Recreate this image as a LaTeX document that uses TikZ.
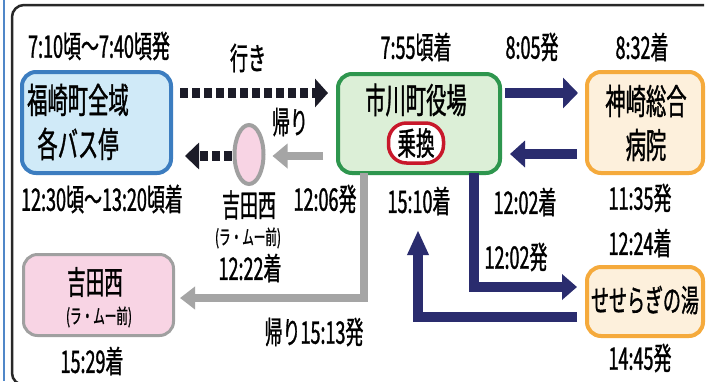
\documentclass[tikz,border=0pt]{standalone}
\usepackage{fontspec}
\newfontfamily\jp[FakeStretch=0.58, FakeBold=1]{Noto Sans CJK JP}
\usetikzlibrary{arrows.meta,shapes.geometric,calc}
\definecolor{navy}{RGB}{42,44,110}
\definecolor{dotc}{RGB}{28,28,40}
\definecolor{arrgray}{RGB}{165,165,165}
\definecolor{bluebd}{RGB}{60,125,192}
\definecolor{bluefill}{RGB}{208,234,248}
\definecolor{greenbd}{RGB}{46,150,78}
\definecolor{greenfill}{RGB}{220,239,215}
\definecolor{orangebd}{RGB}{245,170,60}
\definecolor{orangefill}{RGB}{253,240,220}
\definecolor{pinkfill}{RGB}{248,212,228}
\definecolor{pinkbd}{RGB}{160,160,160}
\definecolor{pillred}{RGB}{200,24,43}
\definecolor{framec}{RGB}{40,40,40}
\definecolor{sideblue}{RGB}{80,135,200}
\begin{document}
\begin{tikzpicture}[x=1pt,y=-1pt,
  box/.style={draw, rounded corners=14pt, line width=4pt, inner sep=0pt, outer sep=0pt},
  lbl/.style={inner sep=0pt, text=black, font=\jp\fontsize{31}{32}\selectfont},
  big/.style={inner sep=0pt, text=black, align=center, font=\jp\fontsize{35}{44}\selectfont},
  small/.style={inner sep=0pt, text=black, font=\jp\fontsize{20}{20}\selectfont},
  navyarrow/.style={draw=navy, line width=10pt},
  grayarrow/.style={draw=arrgray, line width=7.5pt},
  dotarrow/.style={draw=dotc, line width=10pt, dash pattern=on 8pt off 4pt}
]
\useasboundingbox (0,0) rectangle (706,381);
\clip (0,0) rectangle (706,381);
\fill[white] (0,0) rectangle (706,381);
% frame
\draw[sideblue, line width=2pt] (4,0) -- (4,381);
\draw[framec, line width=2.5pt, rounded corners=12pt] (720,385) -- (12,385) -- (12,5) -- (704,5);

% boxes
\node[box, draw=bluebd, fill=bluefill, minimum width=149pt, minimum height=101pt] (A) at (96.5,122.5) {};
\node[box, draw=greenbd, fill=greenfill, minimum width=162pt, minimum height=99pt] (B) at (419,123.5) {};
\node[box, draw=orangebd, fill=orangefill, minimum width=116pt, minimum height=101pt] (C) at (645,122.5) {};
\node[box, draw=pinkbd, fill=pinkfill, line width=3pt, minimum width=150pt, minimum height=81pt] (D) at (98.5,295) {};
\node[box, draw=orangebd, fill=orangefill, minimum width=116pt, minimum height=69pt] (E) at (645,301.5) {};
\node[ellipse, draw=pinkbd, fill=pinkfill, line width=4pt, inner sep=0pt, outer sep=0pt, minimum width=29pt, minimum height=59pt] (K) at (249,154.5) {};
\node[draw=pillred, fill=white, line width=3.5pt, rounded corners=18pt, inner sep=0pt, outer sep=0pt, minimum width=55pt, minimum height=40pt] (P) at (416,143) {};

% box texts
\node[big] (At) at (78,122) {福崎町全域\\各バス停};
\node[big] (Bt) at (416,100) {市川町役場};
\node[lbl, font=\jp\fontsize{32}{32}\selectfont] (Pt) at (416,143) {乗換};
\node[big] (Ct) at (646,123) {神崎総合\\病院};
\node[big, font=\jp\fontsize{32}{32}\selectfont] (Dt1) at (95,282) {吉田西};
\node[small] (Dt2) at (99,317) {(ラ・ムー前)};
\node[lbl] (Et) at (645,300) {せせらぎの湯};

% labels
\node[lbl] (l1) at (99,46) {7:10頃～7:40頃発};
\node[lbl] (l2) at (248,58) {行き};
\node[lbl] (l3) at (290,122) {帰り};
\node[lbl] (l4) at (102,199) {12:30頃～13:20頃着};
\node[lbl] (l5) at (249,205) {吉田西};
\node[small] (l6) at (248,238) {(ラ・ムー前)};
\node[lbl] (l7) at (250,268) {12:22着};
\node[lbl] (l8) at (325,199) {12:06発};
\node[lbl] (l9) at (416,47) {7:55頃着};
\node[lbl] (l10) at (532,47) {8:05発};
\node[lbl] (l11) at (642,47) {8:32着};
\node[lbl] (l12) at (419,201) {15:10着};
\node[lbl] (l13) at (525,202) {12:02着};
\node[lbl] (l14) at (640,198) {11:35発};
\node[lbl] (l15) at (640,243) {12:24着};
\node[lbl] (l16) at (516,257) {12:02発};
\node[lbl] (l17) at (640,358) {14:45発};
\node[lbl] (l18) at (92,361) {15:29着};
\node[lbl] (l19) at (314,332) {帰り15:13発};

% connectors
\draw[dotarrow, -{Triangle[length=13pt,width=28pt]}, shorten <=9pt, shorten >=10pt] (A.east |- 0,93) -- (B.west |- 0,93);
\draw[navyarrow, -{Triangle[length=15pt,width=30pt]}, shorten <=5pt, shorten >=9pt] (B.east |- 0,93) -- (C.west |- 0,93);
\draw[navyarrow, -{Triangle[length=15pt,width=26pt]}, shorten <=10pt, shorten >=10pt] (C.west |- 0,154) -- (B.east |- 0,154);
\draw[grayarrow, -{Triangle[length=15pt,width=24pt]}, shorten <=15pt, shorten >=9pt] (B.west |- 0,156) -- (K.east |- 0,156);
\draw[dotarrow, -{Triangle[length=14pt,width=26pt]}, shorten <=3pt, shorten >=14pt] (K.west |- 0,156) -- (A.east |- 0,156);
\draw[grayarrow, -{Triangle[length=15pt,width=22pt]}] ($(B.south west)+(26,0)$) |- ($(D.east)+(6.5,3)$);
\draw[navyarrow, -{Triangle[length=15pt,width=25pt]}] ($(B.south west)+(136,0)$) |- ($(E.west)+(-10,-14.5)$);
\draw[navyarrow, -{Triangle[length=25pt,width=20pt]}] ($(E.west)+(-10,15.5)$) -| ($(B.south)+(-1,57)$);
\end{tikzpicture}
\end{document}
